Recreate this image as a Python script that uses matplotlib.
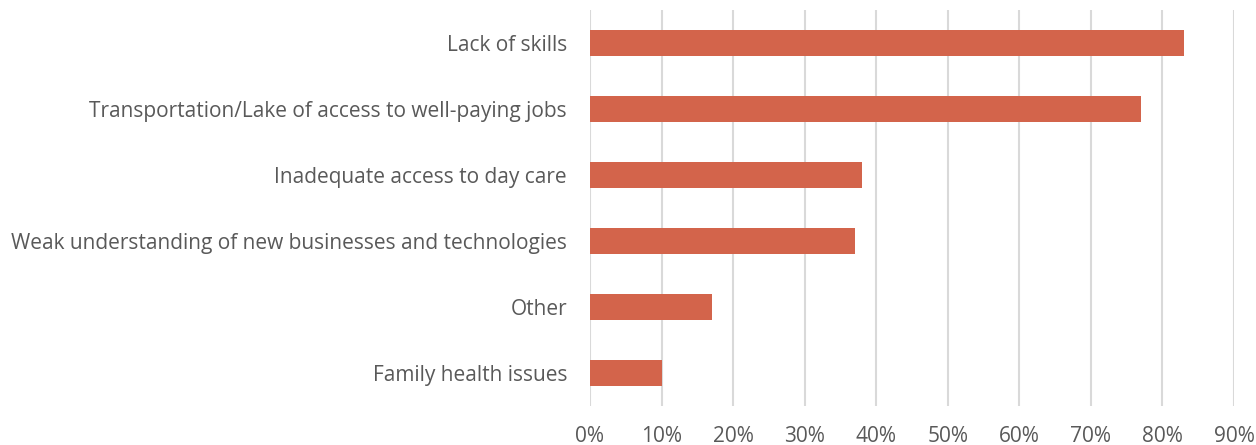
import matplotlib
matplotlib.use("Agg")
import matplotlib.pyplot as plt
from matplotlib.ticker import FuncFormatter, MultipleLocator

categories = [
    "Lack of skills",
    "Transportation/Lake of access to well-paying jobs",
    "Inadequate access to day care",
    "Weak understanding of new businesses and technologies",
    "Other",
    "Family health issues",
]
values = [0.83, 0.77, 0.38, 0.37, 0.17, 0.10]

BAR_COLOR = "#D3644B"
GRID_COLOR = "#D9D9D9"
TEXT_COLOR = "#595959"

plt.rcParams["font.family"] = ["Open Sans", "DejaVu Sans"]

W, H = 1256, 445
fig = plt.figure(figsize=(W / 100, H / 100), dpi=100)
ax = fig.add_axes([590 / W, 1 - 406 / H, (1234 - 590) / W, (406 - 10) / H])

n = len(categories)
ypos = list(range(n))[::-1]
ax.barh(ypos, values, height=0.4, color=BAR_COLOR, zorder=3)

ax.set_xlim(0, 0.9)
ax.set_ylim(-0.5, n - 0.5)
ax.xaxis.set_major_locator(MultipleLocator(0.1))
ax.xaxis.set_major_formatter(FuncFormatter(lambda v, _: f"{v * 100:.0f}%"))
ax.set_yticks(ypos)
ax.set_yticklabels(categories)

ax.grid(axis="x", color=GRID_COLOR, linewidth=1.5, zorder=0)
for s in ax.spines.values():
    s.set_visible(False)
ax.tick_params(axis="both", length=0, labelsize=15, colors=TEXT_COLOR)
ax.tick_params(axis="y", pad=16.5)
ax.tick_params(axis="x", pad=14.5)

fig.savefig("out.png", dpi=100)
